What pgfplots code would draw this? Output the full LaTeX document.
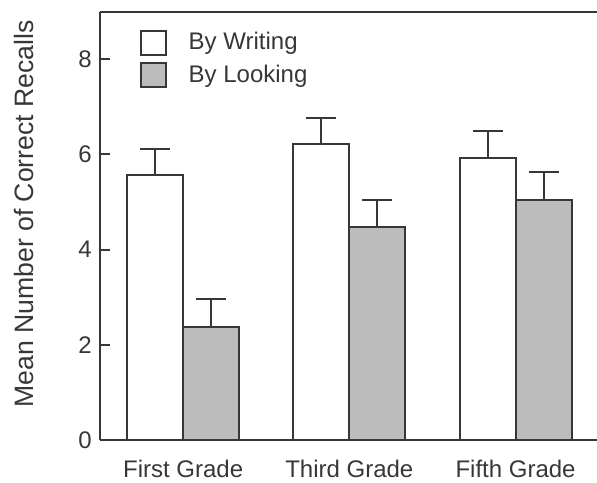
\documentclass[border=0pt]{standalone}
\usepackage{pgfplots}
\pgfplotsset{compat=1.18}
\usepackage{pgfplotstable}
\usepackage{fontspec}
\setmainfont{Liberation Sans}
\definecolor{ink}{RGB}{55,55,55}
\definecolor{barfill}{RGB}{188,188,188}
\pgfplotstableread{
x w we l le
0 5.57 0.54 2.37 0.59
1 6.21 0.55 4.48 0.56
2 5.92 0.58 5.04 0.58
}\datatab
\begin{document}
\fontsize{12}{14}\selectfont
\begin{tikzpicture}
\path[use as bounding box] (-50pt,-21pt) rectangle (248.5pt,220pt);
\begin{axis}[
  at={(0,0)}, anchor=south west,
  scale only axis, width=248.5pt, height=214.2pt,
  xmin=-0.5, xmax=2.49, ymin=0, ymax=9,
  axis x line=box, axis y line=left,
  axis line style={-, draw=ink, line width=1pt},
  ytick={0,2,4,6,8}, tick align=inside,
  major tick length=5pt,
  /pgf/number format/assume math mode=true,
  ytick style={draw=ink, line width=1pt},
  xtick={0,1,2}, xticklabels={First Grade, Third Grade, Fifth Grade},
  xtick style={draw=none},
  xticklabel style={anchor=base, yshift=-13.5pt, font=\fontsize{12}{14}\selectfont, text=ink},
  yticklabel style={font=\fontsize{12}{14}\selectfont, text=ink},
  ylabel={Mean Number of Correct Recalls},
  every axis y label/.style={at={(axis description cs:0,0.5)}, xshift=-38pt, yshift=6pt, rotate=90, anchor=center, font=\fontsize{13.3}{15}\selectfont, text=ink},
  ybar=0pt, bar width=28pt,
  legend image code/.code={\draw[#1] (0pt,-6pt) rectangle (12.5pt,6pt);},
  legend style={draw=none, fill=none, at={(axis description cs:0.067,0.972)}, anchor=north west, font=\fontsize{12}{14}\selectfont, text=ink, row sep=2pt, /tikz/every odd column/.append style={column sep=9pt}},
  legend cell align=left,
  clip=false,
]
\addplot[draw=ink, fill=white, line width=1pt,
  error bars/.cd, y dir=plus, y explicit,
  error bar style={draw=ink, line width=1pt},
  error mark options={rotate=90, mark size=7.5pt, draw=ink, line width=1pt}]
  table[x=x, y=w, y error=we] {\datatab};
\addlegendentry{By Writing}
\addplot[draw=ink, fill=barfill, line width=1pt,
  error bars/.cd, y dir=plus, y explicit,
  error bar style={draw=ink, line width=1pt},
  error mark options={rotate=90, mark size=7.5pt, draw=ink, line width=1pt}]
  table[x=x, y=l, y error=le] {\datatab};
\addlegendentry{By Looking}
\end{axis}
\end{tikzpicture}
\end{document}
